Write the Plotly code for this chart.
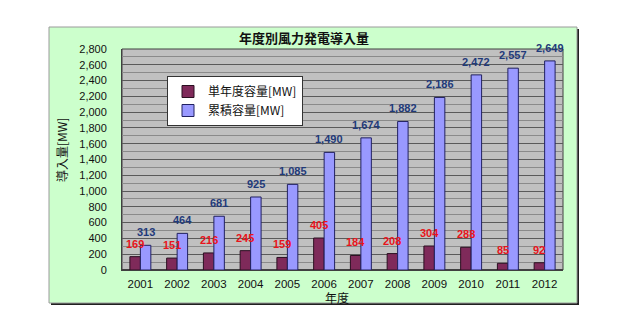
import plotly.graph_objects as go

years = ["2001", "2002", "2003", "2004", "2005", "2006", "2007", "2008", "2009", "2010", "2011", "2012"]
single_year = [169, 151, 216, 245, 159, 405, 184, 208, 304, 288, 85, 92]
cumulative = [313, 464, 681, 925, 1085, 1490, 1674, 1882, 2186, 2472, 2557, 2649]

JP = "Noto Sans CJK JP"
NUM = "Liberation Sans, Noto Sans CJK JP"

W, H = 622, 330
L, R, T, B = 122, 563, 49, 270
pw, ph = R - L, B - T

def px_x(p):
    return (p - L) / pw

def px_y(p):
    return (B - p) / ph

BARGAP = 0.43
bar_w_px = pw / len(years) * (1 - BARGAP) / 2

fig = go.Figure()
fig.add_trace(go.Bar(
    x=years, y=single_year, name="単年度容量[MW]",
    marker=dict(color="#7F2A5A", line=dict(color="#2a0f20", width=1)),
))
fig.add_trace(go.Bar(
    x=years, y=cumulative, name="累積容量[MW]",
    marker=dict(color="#9999FF", line=dict(color="#202060", width=1)),
))

annotations = []
# category axis: annotation positions use the category index
for i, v in enumerate(single_year):
    annotations.append(dict(
        x=i, y=v, xref="x", yref="y", text=f"<b>{v:,}</b>", showarrow=False,
        xshift=-bar_w_px / 2, yshift=5, yanchor="bottom",
        font=dict(size=11, family=NUM, color="#E8141B")))
for i, v in enumerate(cumulative):
    annotations.append(dict(
        x=i, y=v, xref="x", yref="y", text=f"<b>{v:,}</b>", showarrow=False,
        xshift=bar_w_px / 2, yshift=5, yanchor="bottom",
        font=dict(size=11, family=NUM, color="#1F3A7A")))

annotations += [
    dict(text="<b>年度別風力発電導入量</b>", xref="paper", yref="paper",
         x=px_x(304), y=px_y(38), showarrow=False, xanchor="center", yanchor="middle",
         font=dict(size=13, family=JP, color="#111111")),
    dict(text="導入量[MW]", xref="paper", yref="paper",
         x=px_x(61), y=px_y(150), showarrow=False, textangle=-90,
         xanchor="center", yanchor="middle",
         font=dict(size=12, family=JP, color="#111111")),
    dict(text="年度", xref="paper", yref="paper",
         x=px_x(337), y=px_y(297), showarrow=False, xanchor="center", yanchor="middle",
         font=dict(size=12, family=JP, color="#111111")),
]

shapes = [
    dict(type="rect", xref="paper", yref="paper", layer="below",
         x0=px_x(51), x1=px_x(579), y0=px_y(305), y1=px_y(29),
         fillcolor="#202020", line=dict(width=0)),
    dict(type="rect", xref="paper", yref="paper", layer="below",
         x0=px_x(49), x1=px_x(577), y0=px_y(303), y1=px_y(27),
         fillcolor="#CCFFCC", line=dict(color="#9a9a9a", width=1)),
    # plot wall
    dict(type="rect", xref="paper", yref="paper", layer="below",
         x0=0, x1=1, y0=0, y1=1,
         fillcolor="#C0C0C0", line=dict(color="#404040", width=1)),
]

fig.update_layout(
    width=W, height=H,
    margin=dict(l=L, r=W - R, t=T, b=H - B, pad=0),
    paper_bgcolor="white",
    plot_bgcolor="#C0C0C0",
    barmode="group", bargap=BARGAP, bargroupgap=0,
    shapes=shapes,
    annotations=annotations,
    font=dict(family=NUM, size=11, color="#111111"),
    showlegend=True,
    legend=dict(x=px_x(167), y=px_y(76), xanchor="left", yanchor="top",
                bgcolor="white", bordercolor="#333333", borderwidth=1,
                font=dict(size=12, family=JP, color="#111111"),
                itemwidth=30, tracegroupgap=0),
    xaxis=dict(type="category", categoryorder="array", categoryarray=years,
               range=[-0.5, len(years) - 0.5],
               showgrid=False, ticks="", showline=True, linecolor="#404040",
               tickfont=dict(size=11.5, family=NUM, color="#111111"), ticklabelstandoff=3),
    yaxis=dict(range=[0, 2800], dtick=200, tickformat=",d",
               showgrid=True, gridcolor="#5a5a5a", gridwidth=1,
               minor=dict(dtick=100, showgrid=True, gridcolor="#8a8a8a", gridwidth=1),
               showline=True, linecolor="#404040", zeroline=True, zerolinecolor="#404040",
               tickfont=dict(size=11, family=NUM, color="#111111"), ticklabelstandoff=12),
)

fig.write_html("out.html")
